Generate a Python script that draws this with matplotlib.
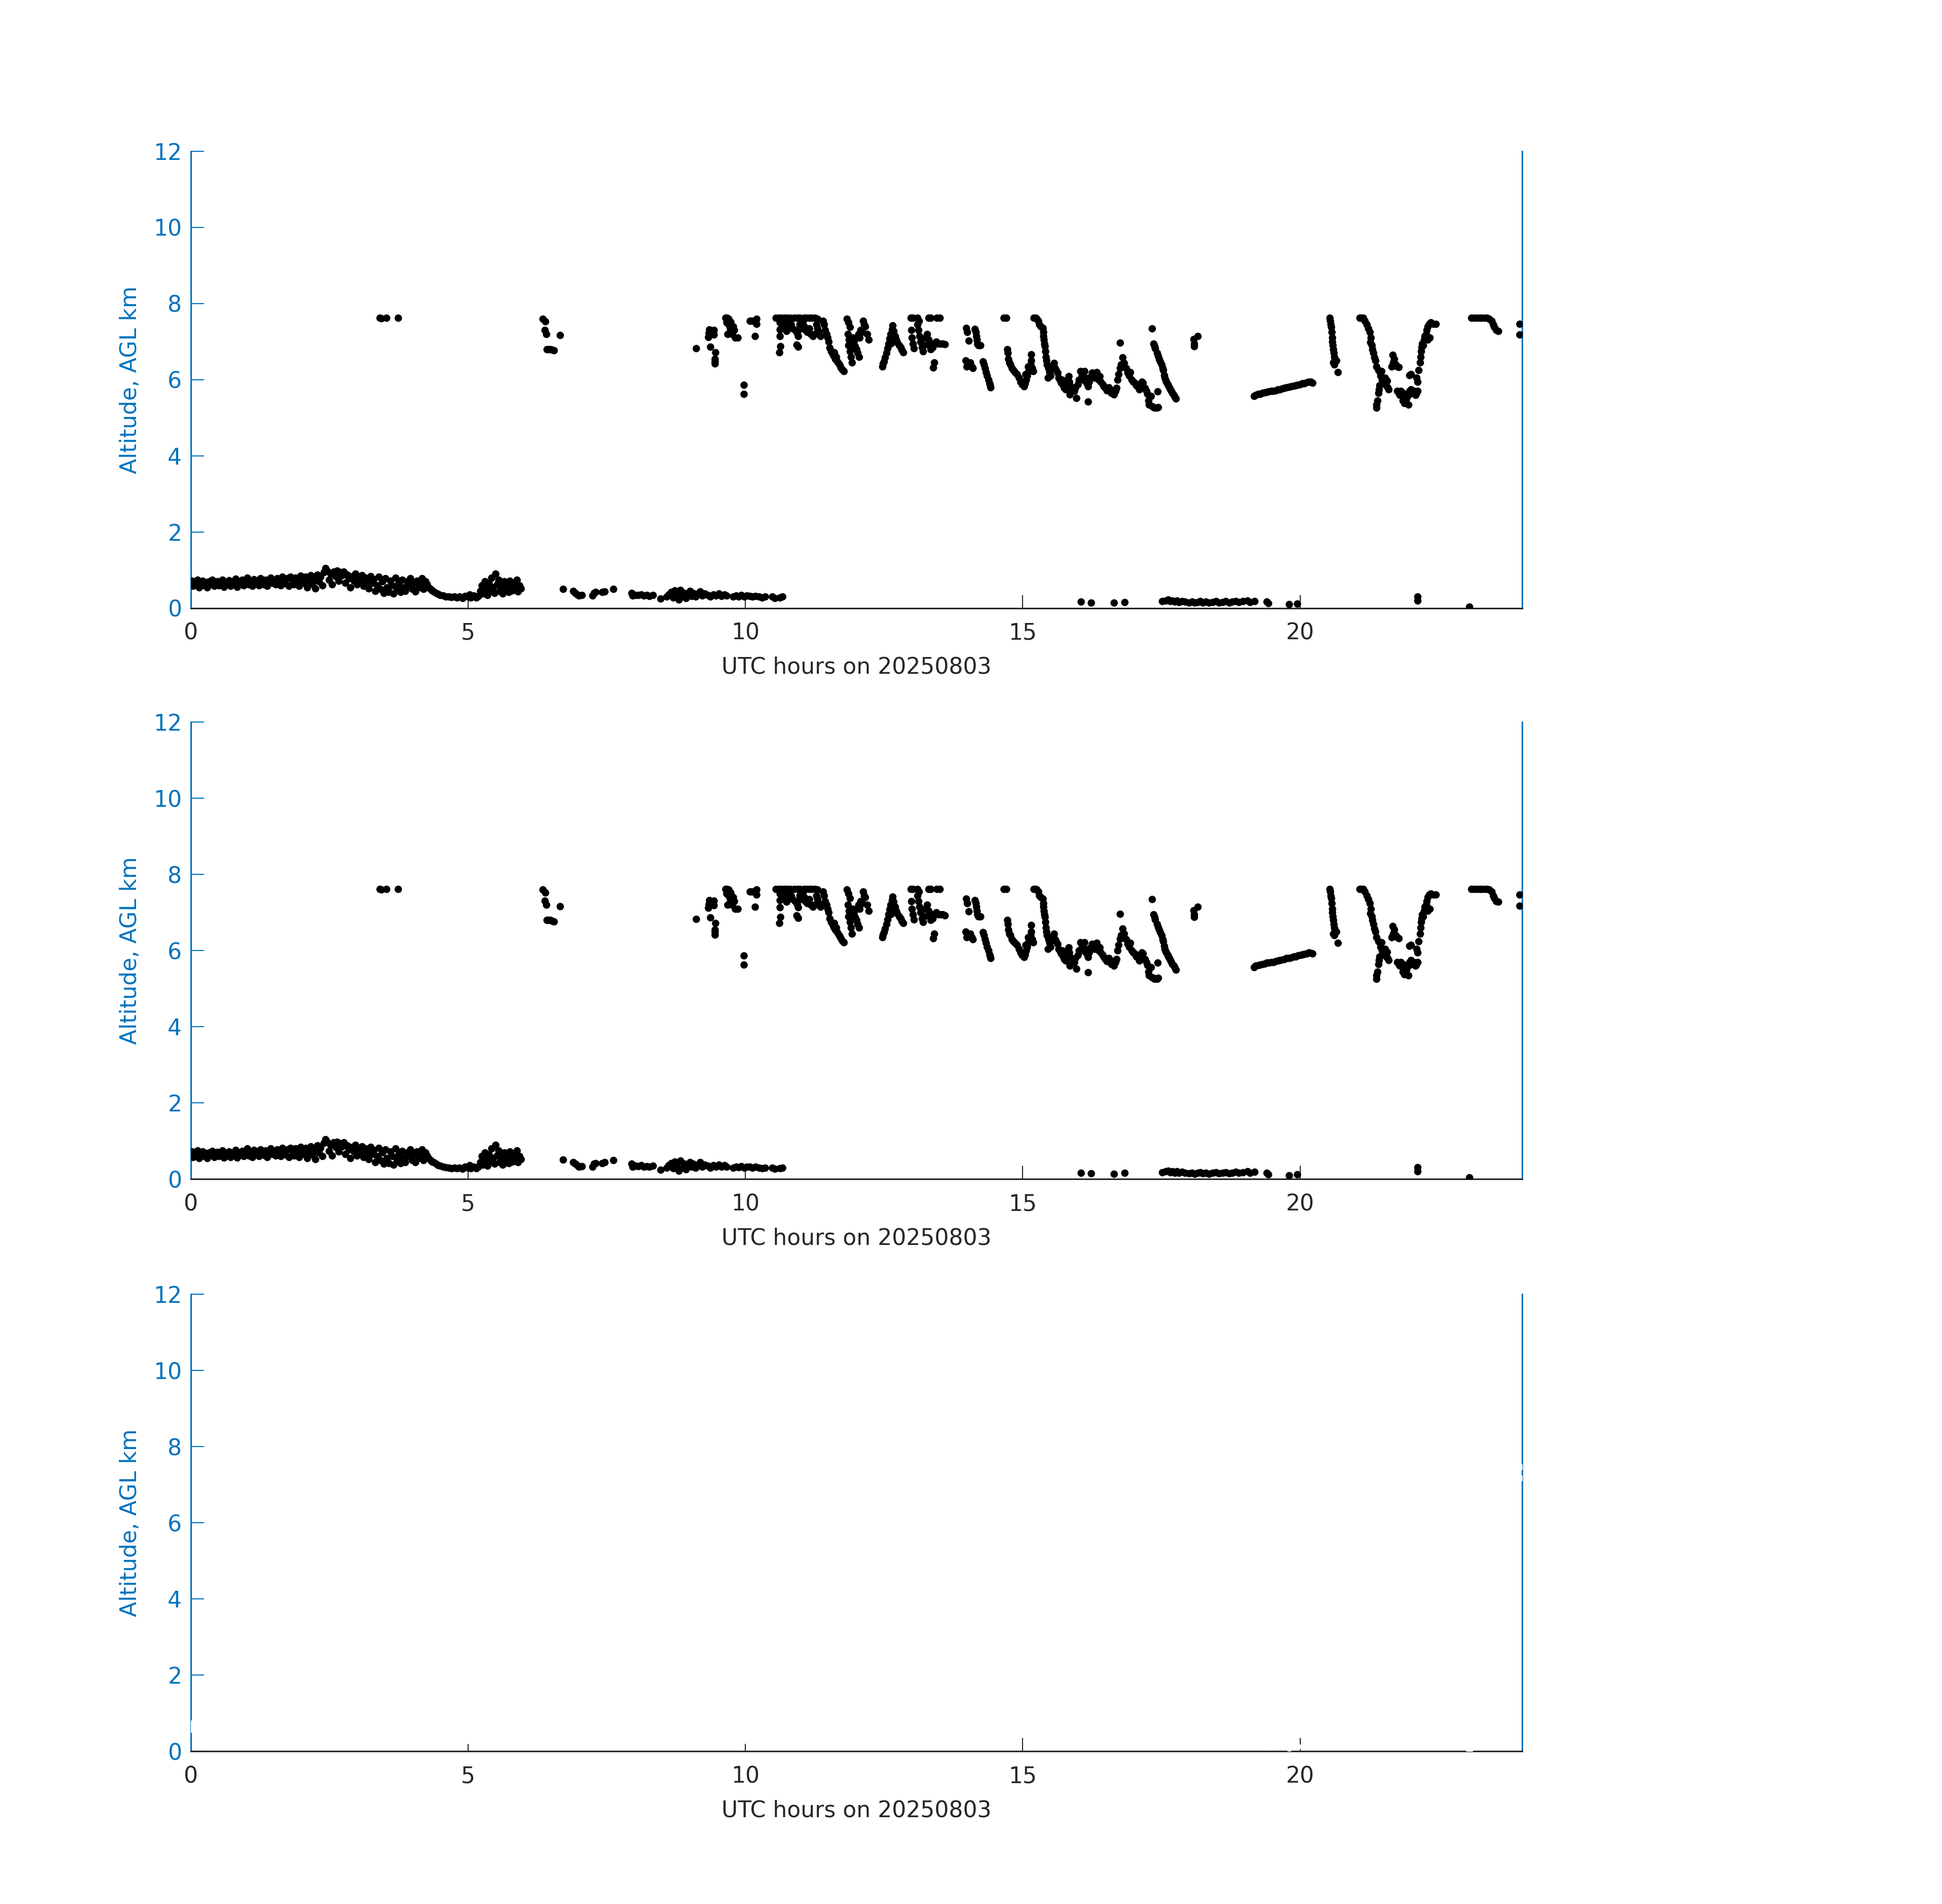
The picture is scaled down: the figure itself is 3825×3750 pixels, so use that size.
import numpy as np
import matplotlib.pyplot as plt

# boundary layer returns (hour, km)
bl_pts = [
    (0.02,0.72),(0.04,0.58),(0.07,0.68),(0.10,0.62),(0.12,0.75),(0.15,0.55),(0.18,0.66),(0.21,0.72),
    (0.24,0.6),(0.27,0.68),(0.3,0.55),(0.33,0.7),(0.36,0.64),(0.39,0.74),(0.42,0.58),(0.45,0.67),
    (0.48,0.71),(0.51,0.6),(0.54,0.66),(0.57,0.75),(0.6,0.56),(0.63,0.68),(0.66,0.62),(0.69,0.73),
    (0.72,0.58),(0.75,0.69),(0.78,0.64),(0.81,0.77),(0.84,0.56),(0.87,0.7),(0.9,0.65),(0.93,0.74),
    (0.96,0.6),(0.99,0.72),(1.02,0.8),(1.05,0.62),(1.08,0.7),(1.11,0.58),(1.14,0.76),(1.17,0.66),
    (1.2,0.72),(1.23,0.6),(1.26,0.78),(1.29,0.68),(1.32,0.63),(1.35,0.75),(1.38,0.58),(1.41,0.7),
    (1.44,0.8),(1.47,0.66),(1.5,0.72),(1.53,0.62),(1.56,0.78),(1.59,0.7),(1.62,0.6),(1.65,0.82),
    (1.68,0.72),(1.71,0.65),(1.74,0.78),(1.77,0.58),
    (1.8,0.82),(1.83,0.74),(1.86,0.62),(1.89,0.8),(1.92,0.7),(1.95,0.58),(1.98,0.85),(2.01,0.76),
    (2.04,0.66),(2.07,0.82),(2.1,0.55),(2.13,0.72),(2.16,0.86),(2.19,0.64),(2.22,0.78),(2.25,0.52),
    (2.28,0.88),(2.31,0.7),(2.34,0.82),(2.37,0.6),(2.4,0.95),(2.43,1.05),(2.46,0.98),(2.49,0.74),
    (2.52,0.9),(2.55,0.62),(2.58,0.96),(2.61,0.84),(2.64,0.98),(2.67,0.72),(2.7,0.94),(2.73,0.86),
    (2.76,0.96),(2.79,0.66),
    (2.82,0.88),(2.85,0.78),(2.88,0.55),(2.91,0.84),(2.94,0.72),(2.97,0.9),(3.0,0.62),(3.03,0.82),
    (3.06,0.74),(3.09,0.86),(3.12,0.58),(3.15,0.8),(3.18,0.7),(3.21,0.52),(3.24,0.84),(3.27,0.66),
    (3.3,0.76),(3.33,0.45),(3.36,0.6),(3.39,0.82),(3.42,0.5),(3.45,0.7),(3.48,0.4),(3.51,0.78),
    (3.54,0.55),(3.57,0.42),(3.6,0.72),(3.63,0.6),(3.66,0.38),(3.69,0.8),(3.72,0.5),(3.75,0.65),
    (3.78,0.42),(3.81,0.74),(3.84,0.55),(3.87,0.45),(3.9,0.7),(3.93,0.6),(3.96,0.78),(3.99,0.5),
    (4.02,0.66),(4.05,0.44),(4.08,0.72),(4.11,0.55),(4.14,0.62),(4.17,0.78),(4.2,0.5),
    (4.23,0.7),(4.26,0.62),(4.29,0.55),(4.32,0.5),(4.35,0.46),(4.38,0.44),(4.42,0.4),(4.46,0.37),
    (4.5,0.35),(4.55,0.33),(4.6,0.31),(4.65,0.3),(4.7,0.29),(4.75,0.3),(4.8,0.28),(4.85,0.3),
    (4.9,0.27),(4.95,0.32),(5.0,0.3),(5.03,0.36),(5.05,0.28),(5.1,0.33),(5.15,0.28),(5.18,0.32),
    (5.22,0.45),(5.25,0.6),(5.27,0.38),(5.3,0.7),(5.32,0.52),(5.35,0.35),(5.38,0.65),(5.4,0.48),
    (5.42,0.8),(5.45,0.55),(5.48,0.4),(5.5,0.9),(5.52,0.62),(5.55,0.75),(5.57,0.45),(5.6,0.58),
    (5.62,0.38),(5.65,0.7),(5.68,0.5),(5.7,0.62),(5.73,0.42),(5.75,0.72),(5.78,0.55),(5.8,0.46),
    (5.83,0.65),(5.85,0.5),(5.88,0.75),(5.9,0.44),(5.93,0.6),(5.95,0.52),
    (6.71,0.51),(6.9,0.45),(6.93,0.4),(6.97,0.36),(7.0,0.33),(7.05,0.34),(7.24,0.33),(7.27,0.4),
    (7.3,0.42),(7.42,0.42),(7.46,0.44),(7.62,0.5),(7.95,0.4),(7.97,0.33),(8.02,0.35),(8.07,0.34),
    (8.12,0.36),(8.17,0.33),(8.22,0.34),(8.27,0.32),(8.33,0.35),(8.47,0.25),(8.58,0.3),(8.62,0.36),
    (8.66,0.42),(8.7,0.28),(8.73,0.46),(8.76,0.34),(8.8,0.22),(8.83,0.48),(8.86,0.3),(8.9,0.4),
    (8.93,0.26),(8.96,0.36),(9.0,0.45),(9.03,0.32),(9.06,0.4),(9.1,0.3),(9.14,0.38),(9.18,0.44),
    (9.22,0.33),(9.27,0.38),(9.32,0.35),(9.37,0.3),(9.42,0.36),(9.47,0.33),(9.52,0.38),(9.57,0.32),
    (9.62,0.36),(9.66,0.33),(9.78,0.3),(9.83,0.33),(9.88,0.31),(9.93,0.34),(9.98,0.3),(10.03,0.33),
    (10.08,0.32),(10.13,0.3),(10.18,0.32),(10.25,0.3),(10.3,0.28),(10.36,0.3),(10.48,0.3),
    (10.53,0.27),(10.62,0.28),(10.67,0.3),
    (16.05,0.17),(16.23,0.15),(16.64,0.14),(16.84,0.16),(17.51,0.18),(17.58,0.2),(17.62,0.22),
    (17.66,0.18),(17.7,0.2),(17.74,0.17),(17.78,0.2),(17.82,0.16),(17.87,0.19),(17.93,0.17),
    (18.0,0.15),(18.05,0.17),(18.1,0.14),(18.15,0.16),(18.2,0.18),(18.25,0.15),(18.3,0.17),
    (18.36,0.14),(18.42,0.16),(18.48,0.18),(18.54,0.15),(18.6,0.16),(18.66,0.18),(18.72,0.15),
    (18.78,0.17),(18.84,0.19),(18.9,0.16),(18.97,0.18),(19.05,0.2),(19.1,0.16),(19.18,0.19),
    (19.4,0.17),(19.43,0.13),(19.8,0.1),(19.95,0.12),(22.12,0.31),(22.12,0.2),(23.05,0.04),
]

# cloud base returns, morning and midday (hour, km)
cloud_am = [
    (3.41,7.62),(3.44,7.61),(3.53,7.62),(3.74,7.62),
    (6.35,7.6),(6.39,7.53),(6.38,7.31),(6.41,7.2),(6.66,7.17),(6.42,6.8),(6.45,6.8),(6.48,6.8),
    (6.52,6.78),(6.55,6.77),
    (9.11,6.83),(9.35,7.32),(9.34,7.22),(9.33,7.12),(9.43,7.31),(9.43,7.19),(9.37,6.87),(9.46,6.72),
    (9.45,6.55),(9.45,6.48),(9.45,6.42),
    (9.64,7.62),(9.67,7.62),(9.7,7.6),(9.66,7.5),(9.7,7.45),(9.72,7.35),(9.68,7.2),(9.75,7.25),
    (9.78,7.4),(9.8,7.3),(9.82,7.1),(9.86,7.1),(9.73,7.52),(9.76,7.2),
    (9.97,5.87),(9.97,5.63),
    (10.08,7.55),(10.12,7.55),(10.2,7.6),(10.2,7.47),(10.17,7.15),
    (10.55,7.62),(10.6,7.62),(10.65,7.62),(10.7,7.62),(10.75,7.62),(10.8,7.62),(10.88,7.62),
    (10.93,7.62),(10.98,7.62),(11.05,7.62),(11.1,7.62),(11.15,7.62),(11.2,7.62),(11.25,7.62),(11.3,7.6),
    (10.62,7.5),(10.66,7.42),(10.7,7.5),(10.74,7.4),(10.78,7.55),(10.82,7.45),(10.85,7.35),
    (10.62,7.32),(10.74,7.28),(10.62,7.14),(10.63,6.88),(10.61,6.72),
    (10.9,7.3),(10.93,7.22),(10.95,7.14),(10.92,6.92),(10.95,6.86),(10.98,7.45),(11.0,7.35),
    (11.03,7.5),(11.06,7.4),(11.08,7.3),(11.12,7.25),(11.15,7.35),(11.18,7.2),(11.22,7.15),
    (11.25,7.2),(11.28,7.45),(11.3,7.35),(11.32,7.25),(11.35,7.15),(11.4,7.55),(11.42,7.45),
    (11.44,7.3),(11.46,7.2),(11.48,7.1),(11.5,7.0),
    (11.52,6.84),(11.55,6.75),(11.57,6.68),(11.59,6.62),(11.6,6.72),(11.62,6.55),(11.64,6.6),
    (11.66,6.48),(11.68,6.42),(11.7,6.38),(11.72,6.32),(11.75,6.26),(11.77,6.22),
    (11.83,7.6),(11.86,7.5),(11.88,7.38),(11.85,7.2),(11.87,7.05),(11.86,6.9),(11.88,6.75),
    (11.9,6.85),(11.92,6.95),(11.94,7.1),(11.96,7.0),(11.98,6.88),(12.0,6.8),(12.02,6.7),
    (11.9,6.6),(11.92,6.45),(12.04,7.2),(12.06,7.1),(12.08,7.3),(12.1,7.25),(12.12,7.55),
    (12.14,7.45),(12.16,7.4),(12.2,7.2),(12.22,7.05),(12.05,6.6),
    (12.47,6.35),(12.48,6.42),(12.5,6.48),(12.52,6.58),(12.54,6.7),(12.56,6.82),(12.58,6.95),
    (12.6,7.08),(12.62,7.2),(12.64,7.32),(12.65,7.42),(12.67,7.28),(12.7,7.15),(12.72,7.05),
    (12.74,6.98),(12.77,6.9),(12.8,6.85),(12.82,6.78),(12.85,6.72),(12.62,6.95),(12.68,7.0),
    (12.98,7.62),(13.02,7.62),(13.1,7.62),(13.13,7.55),(12.99,7.3),(13.0,7.1),(13.02,6.95),
    (13.04,6.82),(13.1,7.45),(13.12,7.3),(13.14,7.15),(13.16,7.0),(13.18,6.85),(13.2,6.75),
    (13.22,6.9),(13.25,7.1),(13.28,7.2),(13.3,7.05),(13.32,6.9),(13.34,6.8),(13.36,6.95),
    (13.38,6.85),(13.3,7.62),(13.34,7.62),(13.4,6.45),(13.39,6.32),(13.45,7.62),(13.5,7.62),
    (13.44,7.0),(13.48,6.95),(13.52,6.95),(13.56,6.95),(13.6,6.93),
]

# cloud base returns, afternoon and evening (hour, km)
cloud_pm = [
    (13.98,7.36),(14.0,7.25),(14.03,7.03),(13.97,6.5),(13.99,6.35),(14.01,6.42),(14.05,6.45),
    (14.08,6.35),(14.1,6.3),(14.14,7.33),(14.15,7.25),(14.16,7.15),(14.17,7.05),(14.18,6.95),
    (14.2,6.9),(14.24,6.9),(14.28,6.48),(14.3,6.4),(14.32,6.3),(14.34,6.2),(14.36,6.1),(14.38,6.0),
    (14.4,5.9),(14.42,5.8),(14.41,5.86),
    (14.66,7.62),(14.7,7.62),(14.72,6.8),(14.73,6.7),(14.74,6.55),(14.76,6.45),(14.78,6.4),
    (14.8,6.3),(14.83,6.25),(14.86,6.2),(14.9,6.15),(14.93,6.05),(14.96,5.95),(14.99,5.88),
    (15.02,5.83),(15.04,5.9),(15.06,6.0),(15.08,6.1),(15.1,6.2),(15.12,6.3),(15.14,6.4),(15.15,6.5),
    (15.15,6.67),(15.17,6.3),(15.19,6.22),(15.05,6.15),(15.1,6.35),
    (15.2,7.62),(15.23,7.62),(15.25,7.6),(15.28,7.55),(15.3,7.45),(15.33,7.4),(15.36,7.36),
    (15.37,7.25),(15.37,7.15),(15.38,7.05),(15.39,6.95),(15.4,6.88),(15.41,6.75),(15.42,6.6),
    (15.43,6.5),(15.44,6.4),(15.46,6.3),(15.48,6.2),(15.5,6.1),(15.45,6.05),
    (15.53,6.35),(15.56,6.44),(15.58,6.3),(15.6,6.25),(15.63,6.18),(15.65,6.05),(15.67,5.98),
    (15.69,5.92),(15.71,6.0),(15.73,5.85),(15.75,5.78),(15.77,5.74),(15.79,5.9),(15.81,6.0),
    (15.83,6.09),(15.84,5.95),(15.85,5.61),(15.87,5.82),(15.9,5.75),(15.93,5.7),(15.95,5.8),
    (15.97,5.52),(15.99,5.88),(16.01,6.0),(16.04,6.22),(16.07,6.1),(16.09,6.0),(16.11,6.22),
    (16.13,6.05),(16.15,5.92),(16.18,5.83),(16.18,5.43),(16.2,5.95),(16.22,6.08),(16.25,6.18),
    (16.28,6.12),(16.3,6.05),(16.33,6.2),(16.35,6.1),(16.37,6.0),(16.39,6.09),(16.41,5.95),
    (16.44,5.88),(16.46,5.83),(16.49,5.78),(16.52,5.72),(16.55,5.8),(16.57,5.7),(16.6,5.65),
    (16.62,5.72),(16.64,5.61),(16.67,5.7),(16.69,5.78),(16.71,6.0),(16.73,6.15),(16.75,6.31),
    (16.77,6.4),(16.8,6.58),(16.75,6.97),(16.82,6.35),(16.83,6.44),(16.86,6.3),(16.89,6.18),
    (16.92,6.1),(16.94,6.2),(16.96,6.0),(16.99,5.95),(17.02,5.92),(17.05,5.85),(17.08,5.8),
    (17.1,5.74),(17.13,5.88),(17.15,5.95),(17.17,5.92),(17.2,5.78),(17.23,5.7),(17.25,5.62),
    (17.27,5.45),(17.28,5.35),(17.31,5.57),(17.33,5.3),(17.36,5.28),(17.38,5.26),(17.42,5.26),
    (17.44,5.28),(17.43,5.69),
    (17.33,7.35),(17.36,6.95),(17.38,6.88),(17.39,6.82),(17.42,6.7),(17.44,6.62),(17.46,6.55),
    (17.48,6.48),(17.5,6.4),(17.52,6.3),(17.53,6.25),(17.55,6.12),(17.56,6.05),(17.58,5.98),
    (17.59,5.95),(17.61,5.88),(17.62,5.85),(17.64,5.8),(17.66,5.75),(17.68,5.7),(17.7,5.65),
    (17.72,5.6),(17.74,5.55),(17.76,5.5),
    (18.08,7.06),(18.09,6.95),(18.09,6.88),(18.15,7.15),
    (19.17,5.57),(19.2,5.6),(19.24,5.62),(19.28,5.63),(19.32,5.65),(19.36,5.66),(19.4,5.68),
    (19.44,5.69),(19.48,5.7),(19.52,5.7),(19.56,5.72),(19.6,5.74),(19.64,5.75),(19.68,5.77),
    (19.72,5.78),(19.76,5.8),(19.8,5.81),(19.84,5.82),(19.88,5.84),(19.92,5.85),(19.96,5.87),
    (20.0,5.88),(20.04,5.9),(20.08,5.91),(20.12,5.93),(20.16,5.95),(20.2,5.94),(20.22,5.92),
    (20.53,7.62),(20.54,7.55),(20.55,7.45),(20.56,7.38),(20.57,7.25),(20.58,7.1),(20.58,7.0),
    (20.59,6.9),(20.6,6.8),(20.61,6.7),(20.62,6.6),(20.63,6.55),(20.6,6.45),(20.62,6.4),
    (20.65,6.5),(20.68,6.2),
    (21.07,7.62),(21.1,7.62),(21.14,7.62),(21.17,7.55),(21.2,7.45),(21.23,7.35),(21.26,7.25),
    (21.28,7.1),(21.27,6.98),(21.29,6.9),(21.3,6.8),(21.32,6.7),(21.34,6.58),(21.36,6.5),
    (21.38,6.35),(21.41,6.25),(21.44,6.2),(21.47,6.22),(21.45,6.1),(21.48,6.0),(21.5,5.95),
    (21.52,5.9),(21.55,5.85),(21.58,5.8),(21.6,5.75),(21.53,6.05),(21.57,5.97),(21.43,5.85),
    (21.42,5.75),(21.41,5.65),(21.39,5.45),(21.38,5.35),(21.38,5.26),(21.67,6.65),(21.7,6.55),
    (21.68,6.45),(21.72,6.4),(21.75,6.35),(21.78,6.33),(21.65,6.35),(21.75,5.7),(21.78,5.65),
    (21.8,5.6),(21.82,5.7),(21.85,5.65),(21.88,5.6),(21.9,5.55),(21.92,5.5),(21.95,5.6),
    (21.97,5.7),(22.0,5.75),(22.02,5.65),(22.05,5.7),(22.08,5.6),(22.1,5.65),(22.12,5.7),
    (21.85,5.45),(21.88,5.38),(21.95,5.35),(21.97,6.12),(22.0,6.15),(22.1,6.05),(22.12,5.95),
    (22.14,6.25),(22.16,6.45),(22.17,6.6),(22.18,6.75),(22.19,6.85),(22.2,6.95),(22.22,6.9),
    (22.24,7.05),(22.25,7.15),(22.27,7.2),(22.28,7.3),(22.3,7.4),(22.33,7.47),(22.36,7.5),
    (22.4,7.47),(22.45,7.47),(22.3,7.05),(22.34,7.1),
    (23.09,7.62),(23.13,7.62),(23.18,7.62),(23.23,7.62),(23.27,7.62),
    (23.33,7.62),(23.37,7.62),(23.41,7.6),(23.45,7.55),(23.48,7.45),(23.5,7.38),(23.54,7.3),
    (23.57,7.28),
    (23.96,7.47),(23.96,7.18),
]

xticks = [0, 5, 10, 15, 20]
yticks = [0, 2, 4, 6, 8, 10, 12]
xlabel = 'UTC hours on 20250803'
ylabel = 'Altitude, AGL km'

blue = '#0072BD'
dark = '#262626'

pts = np.array(bl_pts + cloud_am + cloud_pm)
hrs, alt = pts[:, 0], pts[:, 1]

plt.rcParams['font.family'] = 'DejaVu Sans'
fig = plt.figure(figsize=(15.3, 15.0), dpi=250)

bottoms = [0.6806, 0.3807, 0.0802]
dot_colors = ['k', 'k', 'w']
for b, c in zip(bottoms, dot_colors):
    ax = fig.add_axes([0.0982, b, 0.6855, 0.24])
    ax.plot(hrs, alt, 'o', color=c, ms=4.2, mec='none', zorder=3)
    ax.set_xlim(0, 24)
    ax.set_ylim(0, 12)
    ax.set_xticks(xticks)
    ax.set_yticks(yticks)
    ax.spines['top'].set_visible(False)
    for s in ['left', 'right']:
        ax.spines[s].set_color(blue)
        ax.spines[s].set_linewidth(0.9)
    ax.spines['bottom'].set_color(dark)
    ax.spines['bottom'].set_linewidth(0.9)
    ax.tick_params(axis='x', direction='in', length=7.5, width=0.6, colors=dark,
                   labelsize=12.7, pad=8)
    ax.tick_params(axis='y', direction='in', length=7.5, width=0.6, colors=blue,
                   labelsize=12.7, pad=5)
    ax.set_xlabel(xlabel, fontsize=12.7, color=dark, labelpad=7)
    ax.set_ylabel(ylabel, fontsize=12.7, color=blue, labelpad=7)

fig.savefig('out.png', dpi=250)
